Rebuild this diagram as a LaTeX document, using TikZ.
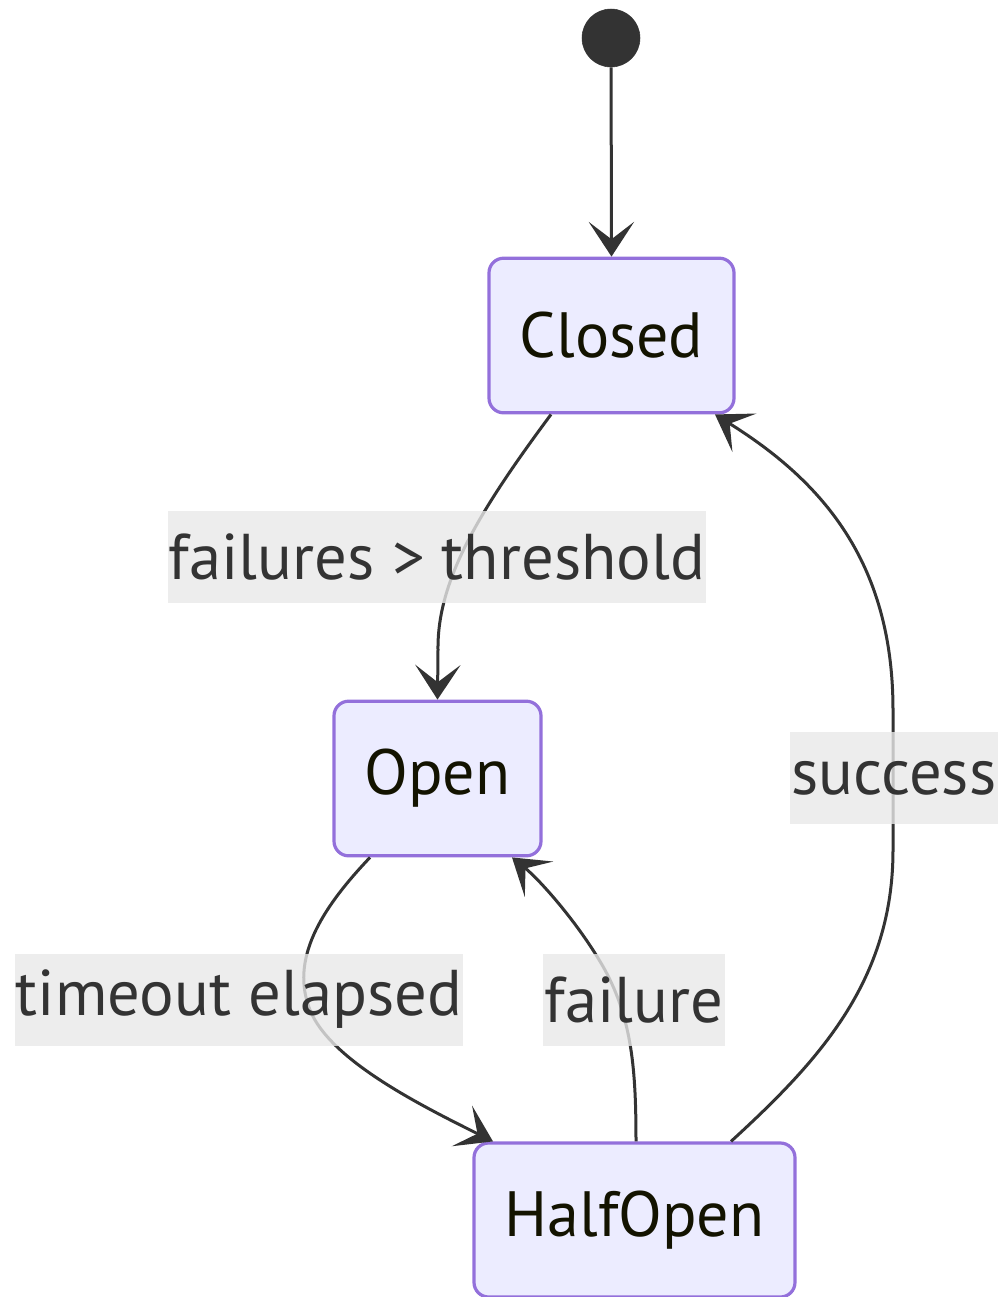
\documentclass[tikz,border=0pt]{standalone}
\usepackage{fontspec}
\setmainfont{PT Sans}
\usetikzlibrary{arrows.meta,calc}
\definecolor{stfill}{HTML}{ECECFF}
\definecolor{stdraw}{HTML}{9370DB}
\definecolor{edgec}{HTML}{333333}
\definecolor{lblfill}{HTML}{E8E8E8}
\definecolor{txtc}{HTML}{131300}
\begin{document}
\begin{tikzpicture}[x=0.75pt,y=-0.75pt,
  statebox/.style={draw=stdraw,fill=stfill,line width=2.4pt,rounded corners=11pt,
    inner sep=0pt,minimum height=116pt,text=txtc,font=\fontsize{48}{57}\selectfont},
  startdot/.style={circle,fill=edgec,draw=edgec,minimum size=43.5pt,inner sep=0pt},
  edge/.style={draw=edgec,line width=2.25pt,
    -{Stealth[length=26pt,width=34pt,inset=13pt]}},
  lbl/.style={fill=lblfill,fill opacity=0.8,text opacity=1,text=edgec,inner xsep=1pt,
    inner ysep=0pt,minimum height=69pt,font=\fontsize{48.5}{57}\selectfont}
]
\useasboundingbox (0,0) rectangle (1007,1297);
\node[startdot] (start) at (611,38) {};
\node[statebox,minimum width=183.75pt] (closed) at (611.5,335.5) {Closed};
\node[statebox,minimum width=155.25pt] (open) at (437.5,778.5) {Open};
\node[statebox,minimum width=240.75pt,minimum height=115.5pt] (half) at (634.5,1220) {HalfOpen};

\draw[edge] (start) -- (closed.north);

\draw[edge] ($(closed.south)+(-60.5,0)$) .. controls (480,510) and (437,580) .. (438,650) -- (open.north);
\node[lbl] (l1) at (437,557) {failures > threshold};

\draw[edge] ($(open.south)+(-67.5,0)$) .. controls (320,910) and (290,960) .. (310,1010)
  .. controls (330,1060) and (420,1105) .. ($(half.north)+(-141.5,0)$);
\node[lbl] (l2) at (239,999.5) {timeout elapsed};

\draw[edge] ($(half.north)+(1.5,0)$) .. controls (636,1070) and (632,1020) .. (605,970)
  .. controls (580,925) and (540,880) .. ($(open.south)+(74.5,0)$);
\node[lbl] (l3) at (634,999.5) {failure};

\draw[edge] ($(half.north)+(96.5,0)$) .. controls (820,1060) and (893,980) .. (893,850)
  -- (893,710) .. controls (893,560) and (820,480) .. ($(closed.south)+(103.5,0)$);
\node[lbl] (l4) at (894,778) {success};
\end{tikzpicture}
\end{document}
